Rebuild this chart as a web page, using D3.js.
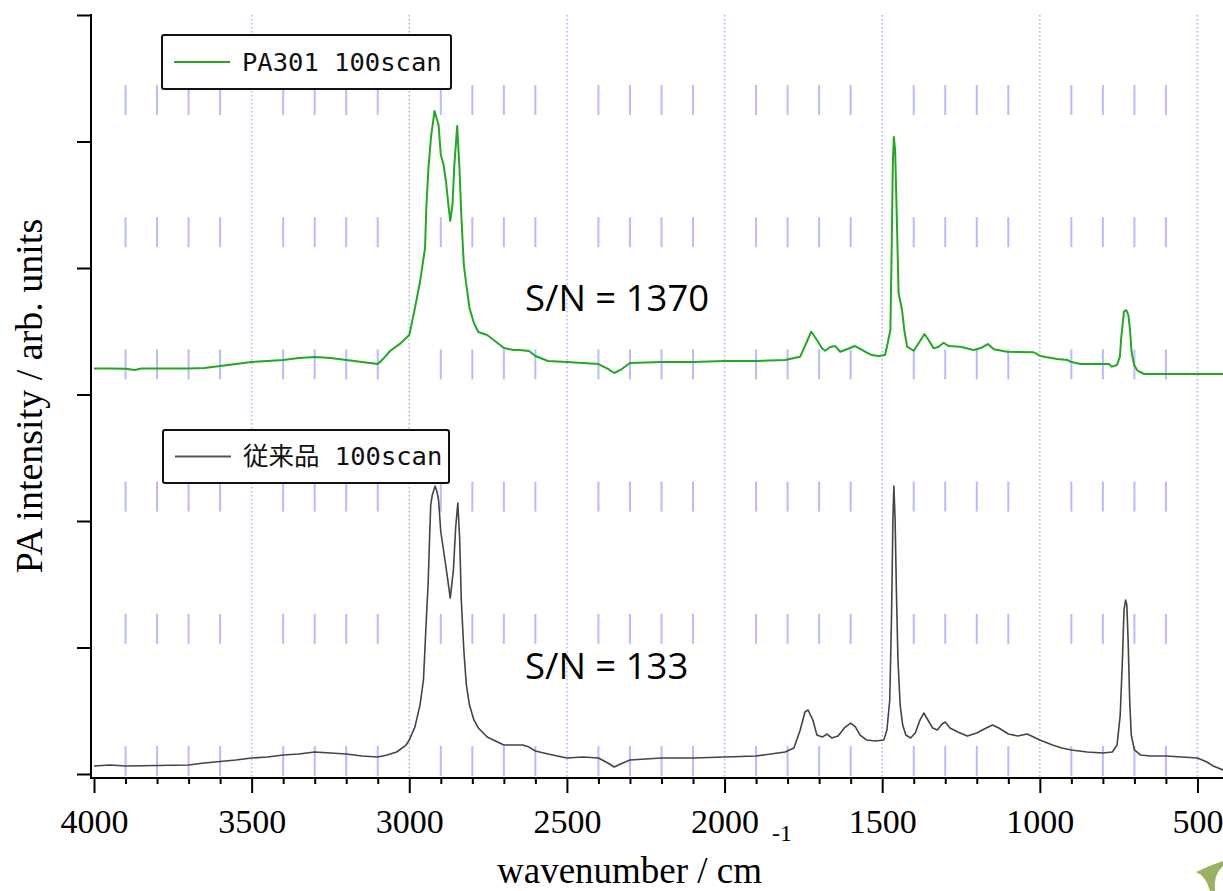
<!DOCTYPE html>
<html><head><meta charset="utf-8">
<script src="https://cdn.jsdelivr.net/npm/d3@7"></script>
<style>html,body{margin:0;padding:0;background:#fff;overflow:hidden}svg{display:block}</style>
</head><body>
<script>
// ---------- data ----------
const majorTicks = [4000, 3500, 3000, 2500, 2000, 1500, 1000, 500];
const minorTicks = d3.range(3900, 419, -100).filter(v => v % 500 !== 0);
const yTicks = [0, 1, 2, 3, 4, 5, 6];
const seriesNames = ["PA301 100scan", "従来品 100scan"];
const snLabels = ["S/N = 1370", "S/N = 133"];

const pa301Wn = [4000,3950,3900,3870,3850,3800,3700,3650,3600,3550,3500,3450,3400,3350,3300,3250,3200,3150,3100,3080,3061,3030,3000,2982,2966,2950,2946,2939,2931,2920,2907,2900,2891,2883,2877,2870,2863,2857,2848,2841,2835,2827,2819,2809,2795,2781,2753,2720,2700,2670,2650,2620,2600,2560,2500,2450,2400,2370,2350,2330,2300,2200,2100,2000,1900,1808,1760,1739,1725,1707,1691,1681,1665,1649,1633,1610,1586,1570,1554,1533,1512,1491,1485,1474,1470,1466,1463,1459,1455,1448,1437,1430,1421,1400,1384,1366,1353,1337,1321,1305,1289,1252,1210,1189,1165,1146,1104,1019,998,977,945,913,903,871,781,771,755,746,742,733,726,719,714,709,701,690,669,600,500,419];
const pa301Val = [3.206,3.206,3.204,3.194,3.206,3.206,3.206,3.209,3.225,3.241,3.257,3.265,3.273,3.289,3.296,3.289,3.273,3.257,3.241,3.289,3.344,3.400,3.470,3.684,3.889,4.158,4.474,4.798,5.036,5.241,5.130,4.893,4.814,4.672,4.522,4.372,4.498,4.814,5.123,4.798,4.419,4.024,3.866,3.684,3.565,3.494,3.470,3.407,3.368,3.352,3.352,3.344,3.304,3.265,3.257,3.249,3.241,3.202,3.170,3.194,3.249,3.257,3.257,3.265,3.265,3.273,3.299,3.417,3.496,3.431,3.365,3.346,3.375,3.383,3.338,3.360,3.383,3.360,3.338,3.312,3.304,3.312,3.378,3.510,4.142,4.854,5.036,4.933,4.538,3.802,3.668,3.510,3.378,3.346,3.407,3.478,3.431,3.365,3.378,3.409,3.383,3.378,3.352,3.365,3.399,3.357,3.338,3.334,3.304,3.294,3.281,3.273,3.259,3.241,3.241,3.220,3.233,3.299,3.444,3.655,3.668,3.628,3.510,3.338,3.233,3.188,3.162,3.162,3.162,3.162];

const convWn = [4000,3950,3900,3800,3700,3650,3600,3550,3500,3450,3400,3350,3300,3250,3200,3150,3100,3070,3040,3010,3000,2982,2966,2955,2946,2940,2936,2932,2927,2918,2912,2907,2900,2890,2880,2870,2860,2853,2846,2840,2835,2827,2819,2809,2795,2781,2753,2720,2700,2670,2640,2620,2600,2560,2500,2450,2400,2370,2350,2330,2300,2200,2100,2000,1900,1808,1780,1760,1745,1735,1720,1707,1690,1675,1660,1640,1620,1600,1585,1570,1550,1520,1495,1485,1476,1470,1466,1463,1459,1455,1450,1443,1435,1425,1410,1395,1380,1368,1355,1340,1325,1310,1300,1285,1260,1230,1200,1170,1150,1130,1100,1070,1040,1000,960,930,900,850,800,770,755,745,738,733,728,724,720,715,710,700,680,650,600,550,500,470,450,419];
const convVal = [0.063,0.071,0.063,0.067,0.071,0.087,0.099,0.111,0.126,0.134,0.150,0.158,0.174,0.166,0.158,0.142,0.134,0.150,0.174,0.229,0.269,0.372,0.545,0.743,1.217,1.518,1.834,2.126,2.206,2.277,2.229,2.166,1.913,1.747,1.573,1.391,1.613,1.945,2.142,1.850,1.375,0.980,0.704,0.545,0.427,0.364,0.292,0.253,0.229,0.229,0.229,0.213,0.182,0.158,0.126,0.134,0.126,0.087,0.055,0.079,0.111,0.126,0.126,0.134,0.142,0.174,0.206,0.348,0.490,0.506,0.427,0.308,0.292,0.316,0.285,0.300,0.364,0.403,0.372,0.308,0.269,0.261,0.269,0.348,0.585,1.296,2.008,2.277,2.008,1.455,0.901,0.545,0.387,0.308,0.285,0.324,0.427,0.482,0.427,0.364,0.348,0.395,0.411,0.364,0.332,0.300,0.324,0.364,0.387,0.364,0.316,0.300,0.316,0.269,0.229,0.206,0.190,0.174,0.166,0.174,0.229,0.466,0.901,1.296,1.375,1.336,1.059,0.585,0.308,0.190,0.150,0.142,0.142,0.134,0.126,0.095,0.063,0.032];

// ---------- layout ----------
const W = 1223, H = 891;
const yAxisX = 91, xAxisY = 778;
const x = d3.scaleLinear().domain([4000, 419]).range([94, 1223]);
const y = d3.scaleLinear().domain([0, 6]).range([774, 15]);

const svg = d3.select("body").append("svg").attr("width", W).attr("height", H);

// minor grid segments
const gMinor = svg.append("g");
const bandStarts = d3.range(6).map(k => xAxisY - 32 - 132.2 * k);
minorTicks.forEach(t => {
  bandStarts.forEach(b => {
    gMinor.append("line").attr("x1", x(t)).attr("x2", x(t)).attr("y1", b).attr("y2", b + 30)
      .attr("stroke", "#b7bbff").attr("stroke-width", 2);
  });
});
// major dotted grid
svg.append("g").selectAll("line").data(majorTicks.filter(t => t !== 4000)).join("line")
  .attr("x1", d => x(d)).attr("x2", d => x(d)).attr("y1", y(6)).attr("y2", xAxisY)
  .attr("stroke", "#aeb2f2").attr("stroke-width", 1.5).attr("stroke-dasharray", "1.5,2.5");

// spectra
const line = d3.line().x(d => x(d[0])).y(d => y(d[1]));
const greenData = pa301Wn.map((w, i) => [w, pa301Val[i]]);
const grayData = convWn.map((w, i) => [w, convVal[i]]);
const green = "#22a822", gray = "#444";
svg.append("path").datum(grayData).attr("d", line).attr("fill", "none").attr("stroke", gray).attr("stroke-width", 1.6).attr("stroke-linejoin", "round");
svg.append("path").datum(greenData).attr("d", line).attr("fill", "none").attr("stroke", green).attr("stroke-width", 2).attr("stroke-linejoin", "round");

// axes
const xAxis = d3.axisBottom(x).tickValues(majorTicks).tickSize(15).tickSizeOuter(0).tickFormat(d3.format("d"));
const gx = svg.append("g").attr("transform", `translate(0,${xAxisY})`).call(xAxis);
gx.select(".domain").remove();
gx.selectAll(".tick line").attr("stroke", "#000").attr("stroke-width", 2);
gx.selectAll(".tick text").attr("y", 55).attr("dy", 0).attr("fill", "#000")
  .style("font-family", "'Liberation Serif', 'Times New Roman', serif").style("font-size", "34px");
const xMinor = d3.axisBottom(x).tickValues(minorTicks).tickSize(6).tickFormat("");
const gxm = svg.append("g").attr("transform", `translate(0,${xAxisY})`).call(xMinor);
gxm.select(".domain").remove();
gxm.selectAll(".tick line").attr("stroke", "#000").attr("stroke-width", 2);
svg.append("line").attr("x1", yAxisX).attr("x2", W).attr("y1", xAxisY).attr("y2", xAxisY).attr("stroke", "#000").attr("stroke-width", 2);

const yAxis = d3.axisLeft(y).tickValues(yTicks).tickSize(14).tickSizeOuter(0).tickFormat("");
const gy = svg.append("g").attr("transform", `translate(${yAxisX},0)`).call(yAxis);
gy.select(".domain").remove();
gy.selectAll(".tick line").attr("stroke", "#000").attr("stroke-width", 2);
svg.append("line").attr("x1", yAxisX).attr("x2", yAxisX).attr("y1", y(6) - 1).attr("y2", xAxisY + 1).attr("stroke", "#000").attr("stroke-width", 2);

// axis titles
svg.append("text").attr("transform", `translate(42,396) rotate(-90)`).attr("text-anchor", "middle")
  .style("font-family", "'Liberation Serif', 'Times New Roman', serif").style("font-size", "38px").text("PA intensity / arb. units");
const xt = svg.append("text").attr("x", 497).attr("y", 883)
  .style("font-family", "'Liberation Serif', 'Times New Roman', serif").style("font-size", "37px");
xt.append("tspan").text("wavenumber / cm");
xt.append("tspan").attr("dy", -42).attr("dx", 10).style("font-size", "24px").text("-1");

// legends
const legends = [
  { name: seriesNames[0], color: green, bx: 162, by: 35, bw: 289, bh: 54 },
  { name: seriesNames[1], color: "#555", bx: 163, by: 430, bw: 286, bh: 53 }
];
legends.forEach(l => {
  const g = svg.append("g");
  g.append("rect").attr("x", l.bx).attr("y", l.by).attr("width", l.bw).attr("height", l.bh).attr("rx", 2)
    .attr("fill", "#fff").attr("stroke", "#111").attr("stroke-width", 2);
  g.append("line").attr("x1", l.bx + 12).attr("x2", l.bx + 68).attr("y1", l.by + l.bh / 2).attr("y2", l.by + l.bh / 2)
    .attr("stroke", l.color).attr("stroke-width", 2);
  g.append("text").attr("x", l.bx + 80).attr("y", l.by + l.bh / 2 + 8.5)
    .style("font-family", "'DejaVu Sans Mono', 'Noto Sans CJK JP', monospace").style("font-size", "25.5px")
    .attr("fill", "#111").text(l.name);
});

// S/N annotations
const snPos = [[525, 311], [525, 679]];
snLabels.forEach((t, i) => {
  svg.append("text").attr("x", snPos[i][0]).attr("y", snPos[i][1])
    .style("font-family", "'Open Sans', 'Liberation Sans', sans-serif").style("font-size", "36.5px").attr("fill", "#000").text(t);
});

// logo fragment at bottom-right corner
svg.append("path")
  .attr("d", "M1196,872 Q1206,876 1210,891 L1215,891 Q1213,875 1223,866 L1223,861 Q1208,866 1196,872 Z")
  .attr("fill", "#86a447").attr("opacity", 0.85);
</script>
</body></html>
